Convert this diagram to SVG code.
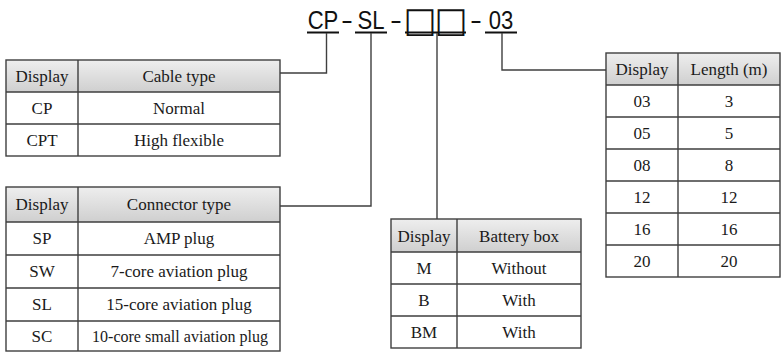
<svg xmlns="http://www.w3.org/2000/svg" width="782" height="354" viewBox="0 0 782 354">
<defs>
<linearGradient id="hdr" x1="0" y1="0" x2="0" y2="1">
<stop offset="0" stop-color="#eeeeee"/>
<stop offset="1" stop-color="#cfcfcf"/>
</linearGradient>
<style>
.grid{fill:none;stroke:#3f3f3f;stroke-width:1.4}
.hd{fill:url(#hdr);stroke:none}
.cell{fill:#ffffff;stroke:none}
.t{font-family:"Liberation Serif","Times New Roman",serif;font-size:17px;fill:#1a1a1a;text-anchor:middle}
.title{font-family:"Liberation Sans",Arial,sans-serif;font-size:26px;fill:#111111;text-anchor:middle}
.dash{font-family:"Liberation Sans",Arial,sans-serif;font-size:26px;fill:#111111}
.box{font-family:"DejaVu Sans",sans-serif;font-size:35px;fill:#111111;text-anchor:middle}
.ul{stroke:#111111;stroke-width:2;fill:none}
.con{stroke:#3f3f3f;stroke-width:1.4;fill:none}
</style>
</defs>
<rect width="782" height="354" fill="#ffffff"/>

<g id="code">
<text class="title" transform="scale(0.85,1)" y="29"><tspan x="380">CP</tspan><tspan x="436.5">SL</tspan><tspan x="589.4">03</tspan></text>
<text class="dash" x="341" y="29" textLength="12" lengthAdjust="spacingAndGlyphs">-</text>
<text class="dash" x="390" y="29" textLength="12" lengthAdjust="spacingAndGlyphs">-</text>
<text class="dash" x="470" y="29" textLength="12" lengthAdjust="spacingAndGlyphs">-</text>
<text class="box" y="31.5"><tspan x="420">□</tspan><tspan x="451">□</tspan></text>
<line class="ul" x1="307" y1="32.5" x2="339" y2="32.5"/>
<line class="ul" x1="355" y1="32.5" x2="387" y2="32.5"/>
<line class="ul" x1="405" y1="32.5" x2="466" y2="32.5"/>
<line class="ul" x1="485" y1="32.5" x2="517" y2="32.5"/>
</g>

<g id="connectors">
<polyline class="con" points="326.5,33 326.5,73 280,73"/>
<polyline class="con" points="371,33 371,206 280,206"/>
<polyline class="con" points="437,33 437,219"/>
<polyline class="con" points="502,33 502,70 606,70"/>
</g>

<g id="cable-type">
<rect class="hd" x="6" y="60" width="274" height="32"/>
<rect class="cell" x="6" y="92" width="274" height="64"/>
<rect class="grid" x="6" y="60" width="274" height="96"/>
<path class="grid" d="M78 60V156M6 92H280M6 124H280"/>
<text class="t" x="42" y="82">Display</text>
<text class="t" x="179" y="82">Cable type</text>
<text class="t" x="42" y="114">CP</text>
<text class="t" x="179" y="114">Normal</text>
<text class="t" x="42" y="146">CPT</text>
<text class="t" x="179" y="146">High flexible</text>
</g>

<g id="connector-type">
<rect class="hd" x="6" y="187" width="274" height="35"/>
<rect class="cell" x="6" y="222" width="274" height="129"/>
<rect class="grid" x="6" y="187" width="274" height="164"/>
<path class="grid" d="M78 187V351M6 222H280M6 255H280M6 288H280M6 321H280"/>
<text class="t" x="42" y="210">Display</text>
<text class="t" x="179" y="210">Connector type</text>
<text class="t" x="42" y="244">SP</text>
<text class="t" x="179" y="244">AMP plug</text>
<text class="t" x="42" y="277">SW</text>
<text class="t" x="179" y="277">7-core aviation plug</text>
<text class="t" x="42" y="310">SL</text>
<text class="t" x="179" y="310">15-core aviation plug</text>
<text class="t" x="42" y="342">SC</text>
<text class="t" x="180" y="342" textLength="176" lengthAdjust="spacingAndGlyphs">10-core small aviation plug</text>
</g>

<g id="battery-box">
<rect class="hd" x="391" y="219" width="190" height="33"/>
<rect class="cell" x="391" y="252" width="190" height="96"/>
<rect class="grid" x="391" y="219" width="190" height="129"/>
<path class="grid" d="M457 219V348M391 252H581M391 284H581M391 316H581"/>
<text class="t" x="424" y="242">Display</text>
<text class="t" x="519" y="242">Battery box</text>
<text class="t" x="424" y="274">M</text>
<text class="t" x="519" y="274">Without</text>
<text class="t" x="424" y="306">B</text>
<text class="t" x="519" y="306">With</text>
<text class="t" x="424" y="338">BM</text>
<text class="t" x="519" y="338">With</text>
</g>

<g id="length">
<rect class="hd" x="606" y="53" width="174" height="32"/>
<rect class="cell" x="606" y="85" width="174" height="192"/>
<rect class="grid" x="606" y="53" width="174" height="224"/>
<path class="grid" d="M678 53V277M606 85H780M606 117H780M606 149H780M606 181H780M606 213H780M606 245H780"/>
<text class="t" x="642" y="75">Display</text>
<text class="t" x="729" y="75">Length (m)</text>
<text class="t" x="642" y="107">03</text>
<text class="t" x="729" y="107">3</text>
<text class="t" x="642" y="139">05</text>
<text class="t" x="729" y="139">5</text>
<text class="t" x="642" y="171">08</text>
<text class="t" x="729" y="171">8</text>
<text class="t" x="642" y="203">12</text>
<text class="t" x="729" y="203">12</text>
<text class="t" x="642" y="235">16</text>
<text class="t" x="729" y="235">16</text>
<text class="t" x="642" y="267">20</text>
<text class="t" x="729" y="267">20</text>
</g>
</svg>
